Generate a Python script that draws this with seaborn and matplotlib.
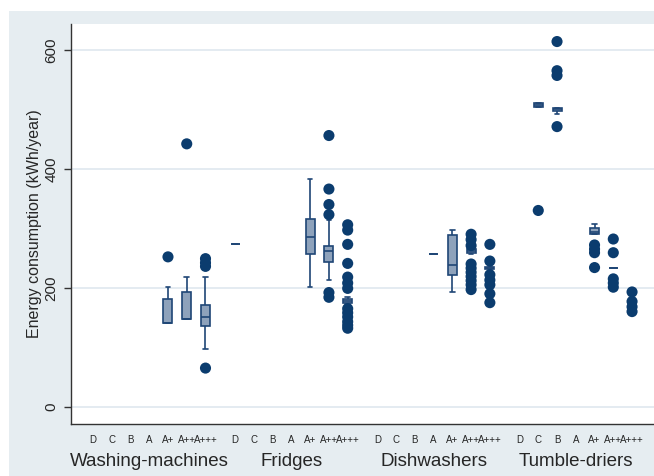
import numpy as np
import pandas as pd
import matplotlib
matplotlib.use('Agg')
import matplotlib.pyplot as plt
from matplotlib.patches import Rectangle
import seaborn as sns

sns.set_style('white')
plt.rcParams['font.family'] = ['Liberation Sans', 'DejaVu Sans']

groups = ['Washing-machines', 'Fridges', 'Dishwashers', 'Tumble-driers']
classes = ['D', 'C', 'B', 'A', 'A+', 'A++', 'A+++']

# box stats per class: [lower whisker, q1, median, q3, upper whisker]
wm_boxes = {'A+': [140, 140, 140, 181, 201], 'A++': [148, 148, 148, 193, 218],
            'A+++': [97, 136, 151, 171, 218]}
wm_dots = {'A+': [252], 'A++': [442], 'A+++': [249, 242, 236, 65]}

fr_boxes = {'D': [274, 274, 274, 274, 274], 'A+': [201, 256, 286, 316, 383],
            'A++': [213, 243, 262, 271, 314], 'A+++': [172, 175, 178, 181, 184]}
fr_dots = {'A++': [456, 366, 340, 323, 192, 184],
           'A+++': [306, 297, 273, 241, 218, 208, 199, 165, 158, 151, 143, 137, 132]}

dw_boxes = {'A': [257, 257, 257, 257, 257], 'A+': [193, 221, 238, 288, 298],
            'A++': [256, 259, 262, 265, 268], 'A+++': [231, 232, 234, 235, 237]}
dw_dots = {'A++': [290, 281, 271, 240, 233, 226, 219, 212, 205, 197],
           'A+++': [273, 245, 222, 213, 205, 190, 175]}

td_boxes = {'C': [504, 504, 507, 511, 511], 'B': [493, 498, 500, 503, 503],
            'A+': [290, 290, 293, 300, 307], 'A++': [234, 234, 234, 234, 234]}
td_dots = {'C': [330], 'B': [614, 565, 557, 471], 'A+': [272, 265, 259, 234],
           'A++': [282, 259, 215, 208, 201], 'A+++': [193, 177, 168, 160]}

all_boxes = [wm_boxes, fr_boxes, dw_boxes, td_boxes]
all_dots = [wm_dots, fr_dots, dw_dots, td_dots]

group_step = 7.58  # distance between groups, in class widths


def pos(gi, cls):
    return gi * group_step + classes.index(cls)


box_rows = []
dot_rows = []
for gi in range(len(groups)):
    for cls, vals in all_boxes[gi].items():
        for v in vals:
            box_rows.append({'pos': pos(gi, cls), 'value': v})
    for cls, vals in all_dots[gi].items():
        for v in vals:
            dot_rows.append({'pos': pos(gi, cls), 'value': v})
box_df = pd.DataFrame(box_rows)
dot_df = pd.DataFrame(dot_rows)

bg = '#e6edf1'
fig = plt.figure(figsize=(6.54, 4.76), dpi=100, facecolor='white')
fig.add_artist(Rectangle((9 / 654, 0), 1, 1 - 11 / 476, transform=fig.transFigure,
                         facecolor=bg, edgecolor='none', zorder=-10))
ax = fig.add_axes([71 / 654, 1 - 424 / 476, (654 - 71) / 654, 400 / 476])
ax.set_facecolor('white')

for y in [0, 200, 400, 600]:
    ax.axhline(y, color='#dfe8ef', lw=1.2, zorder=0)

sns.boxplot(data=box_df, x='pos', y='value', orient='x', native_scale=True,
            whis=(0, 100), showfliers=False, width=0.48, color='#8ea2bb',
            linecolor='#1f4676', linewidth=1.2, saturation=1, ax=ax)
sns.scatterplot(data=dot_df, x='pos', y='value', color='#0b3c6e', s=64,
                edgecolor='none', ax=ax, zorder=3)

ax.set_xlim(-1.17, 3 * group_step + 6 + 1.17)
ax.set_ylim(-29, 643.5)

ax.set_xticks([pos(gi, c) for gi in range(len(groups)) for c in classes])
ax.set_xticklabels(classes * len(groups), fontsize=7)
ax.tick_params(axis='x', length=0, pad=8)
ax.set_yticks([0, 200, 400, 600])
ax.set_yticklabels(['0', '200', '400', '600'], rotation=90, va='center', fontsize=11)
ax.tick_params(axis='y', length=5, width=1, color='#333333', pad=4, left=True)
ax.set_xlabel('')
ax.set_ylabel('Energy consumption (kWh/year)', fontsize=11.5, labelpad=2)

for gi, g in enumerate(groups):
    ax.text(gi * group_step + 3, -0.0925, g, transform=ax.get_xaxis_transform(),
            ha='center', va='center', fontsize=13.5)

for s in ['top', 'right']:
    ax.spines[s].set_visible(False)
for s in ['left', 'bottom']:
    ax.spines[s].set_color('#333333')
    ax.spines[s].set_linewidth(1)

fig.savefig('out.png', dpi=100, facecolor='white')
